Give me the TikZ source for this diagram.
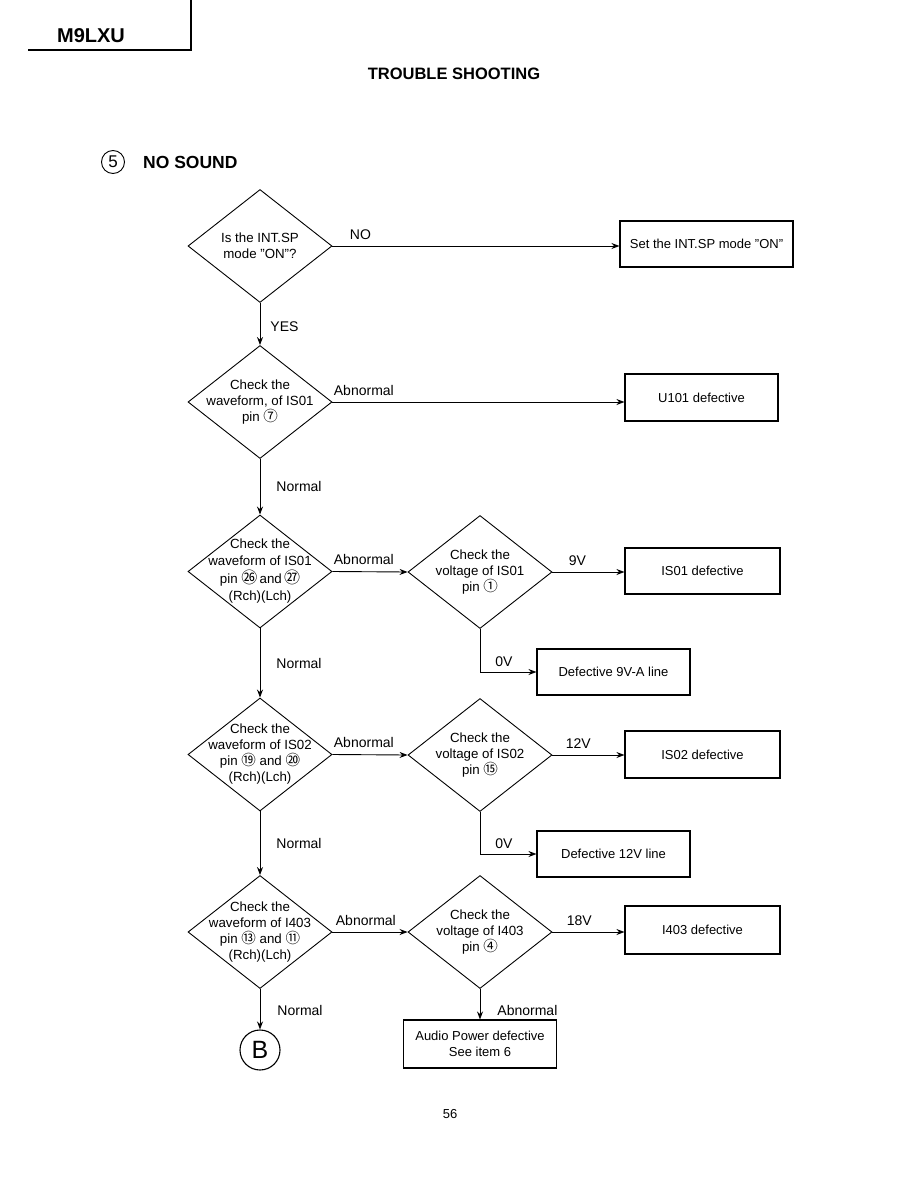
\documentclass[tikz,border=0pt]{standalone}
\usepackage{fontspec}
\setmainfont{Liberation Sans}
\newfontfamily\circfont{Noto Sans CJK SC}
\usetikzlibrary{shapes.geometric, arrows.meta}
\newcommand{\cnum}[1]{{\circfont\fontsize{14.5}{16}\selectfont #1}}
\newcommand{\bigcnum}[1]{{\circfont\fontsize{16}{16}\selectfont #1}}

\begin{document}
\begin{tikzpicture}[
  x=1pt, y=-1pt,
  dia/.style={diamond, draw, line width=0.9pt, minimum width=144pt, minimum height=113pt, inner sep=0pt},
  dtext/.style={font=\fontsize{13.3}{16}\selectfont, align=center, inner sep=0pt},
  box/.style={rectangle, draw, line width=1.1pt, minimum width=153pt, minimum height=46pt, font=\fontsize{13}{16}\selectfont, align=center},
  lbl/.style={font=\fontsize{14}{16}\selectfont, inner sep=1pt},
  hlbl/.style={lbl, at start, anchor=south west, yshift=5pt},
  vlbl/.style={lbl, midway, anchor=west},
  arr/.style={draw, line width=0.9pt, -{Stealth[length=8pt, width=6pt]}},
]
  \useasboundingbox (0,0) rectangle (918,1188);

  % page header
  \draw[line width=1.3pt] (28,50) -- (191,50) -- (191,0);
  \node[font=\bfseries\fontsize{20}{24}\selectfont] (model) at (91,36) {M9LXU};
  \node[font=\bfseries\fontsize{16.5}{20}\selectfont] (title) at (454,74) {TROUBLE SHOOTING};
  \node[circle, draw, line width=0.9pt, minimum size=23pt, inner sep=0pt, font=\fontsize{17}{20}\selectfont] (item) at (113,162) {5};
  \node[font=\bfseries\fontsize{17.5}{20}\selectfont, anchor=west, inner sep=0pt] (head) at (143,162) {NO SOUND};

  % decisions
  \node[dia] (d1) at (260,246) {};
  \node[dtext] (d1t) at (d1) {Is the INT.SP\\mode "ON"?};
  \node[dia] (d2) at (260,402) {};
  \node[dtext] (d2t) at (d2) {Check the\\waveform, of IS01\\pin \cnum{⑦}};
  \node[dia] (d3) at (260,571.5) {};
  \node[dtext] (d3t) at (d3) {Check the\\[1pt]waveform of IS01\\[2pt]pin \bigcnum{㉖}\,and\,\bigcnum{㉗}\\[1pt](Rch)(Lch)};
  \node[dia] (v3) at (480,572) {};
  \node[dtext] (v3t) at (v3) {Check the\\voltage of IS01\\pin \cnum{①}};
  \node[dia] (d4) at (260,754.5) {};
  \node[dtext] (d4t) at (d4) {Check the\\waveform of IS02\\pin \cnum{⑲} and \cnum{⑳}\\(Rch)(Lch)};
  \node[dia] (v4) at (480,755) {};
  \node[dtext] (v4t) at (v4) {Check the\\voltage of IS02\\pin \cnum{⑮}};
  \node[dia] (d5) at (260,932) {};
  \node[dtext] (d5t) at (d5) {Check the\\waveform of I403\\pin \cnum{⑬} and \cnum{⑪}\\(Rch)(Lch)};
  \node[dia] (v5) at (480,932) {};
  \node[dtext] (v5t) at (v5) {Check the\\voltage of I403\\pin \cnum{④}};

  % results
  \node[box, minimum width=173pt] (b1) at (706.5,244) {Set the INT.SP mode "ON"};
  \node[box, minimum height=47pt] (b2) at (701.5,397.5) {U101 defective};
  \node[box, minimum width=155pt] (b3) at (702.5,571) {IS01 defective};
  \node[box] (b4) at (613.5,672) {Defective 9V-A line};
  \node[box, minimum width=155pt, minimum height=47pt] (b5) at (702.5,754.5) {IS02 defective};
  \node[box] (b6) at (613.5,854) {Defective 12V line};
  \node[box, minimum width=155pt, minimum height=48pt] (b7) at (702.5,930) {I403 defective};
  \node[box, minimum height=48pt] (b8) at (480,1044) {Audio Power defective\\See item 6};
  \node[circle, draw, line width=1.1pt, minimum size=40pt, inner sep=0pt, font=\fontsize{25}{28}\selectfont] (cB) at (260,1050) {B};

  % connectors
  \draw[arr] (d1.east) -- node[hlbl, xshift=16pt] {NO} (d1.east -| b1.west);
  \draw[arr] (d1.south) -- node[vlbl, xshift=9pt, yshift=-3pt] {YES} (d2.north);
  \draw[arr] (d2.east) -- node[hlbl] {Abnormal} (d2.east -| b2.west);
  \draw[arr] (d2.south) -- node[vlbl, xshift=15pt] {Normal} (d3.north);
  \draw[arr] (d3.east) -- node[hlbl] {Abnormal} (v3.west);
  \draw[arr] (v3.east) -- node[hlbl, xshift=15pt] {9V} (v3.east -| b3.west);
  \draw[arr] (v3.south) |- node[lbl, pos=0.5, anchor=south west, xshift=14pt, yshift=4pt] {0V} (b4.west);
  \draw[arr] (d3.south) -- node[vlbl, xshift=15pt] {Normal} (d4.north);
  \draw[arr] (d4.east) -- node[hlbl] {Abnormal} (v4.west);
  \draw[arr] (v4.east) -- node[hlbl, xshift=12pt] {12V} (v4.east -| b5.west);
  \draw[arr] (v4.south) |- node[lbl, pos=0.5, anchor=south west, xshift=14pt, yshift=4pt] {0V} (b6.west);
  \draw[arr] (d4.south) -- node[vlbl, xshift=15pt] {Normal} (d5.north);
  \draw[arr] (d5.east) -- node[hlbl, xshift=2pt] {Abnormal} (v5.west);
  \draw[arr] (v5.east) -- node[hlbl, xshift=13pt] {18V} (v5.east -| b7.west);
  \draw[arr] (v5.south) -- node[vlbl, xshift=16pt, yshift=-6pt] {Abnormal} (b8.north);
  \draw[arr] (d5.south) -- node[vlbl, xshift=16pt, yshift=-1pt] {Normal} (cB.north);

  % page number
  \node[font=\fontsize{13}{16}\selectfont] (page) at (450,1114) {56};
\end{tikzpicture}
\end{document}
